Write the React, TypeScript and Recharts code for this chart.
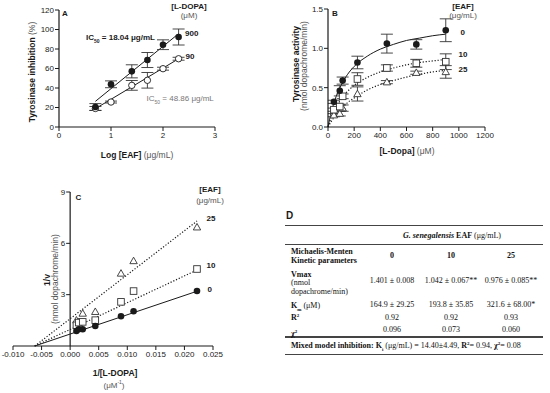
import React from 'react';
import { ComposedChart, Scatter, Line, XAxis, YAxis, ErrorBar, ReferenceLine, ReferenceDot } from 'recharts';

const SANS = '"Liberation Sans", Arial, sans-serif';
const SERIF = '"Liberation Serif", "Times New Roman", serif';
const INK = '#1a1a1a';
const GREY = '#555';

// Panel A: tyrosinase inhibition vs log [EAF]
const A_X = [0.7, 1.0, 1.4, 1.7, 2.0, 2.3];
const A_900 = [20.5, 43.8, 57.1, 68.7, 84.4, 92.3];
const A_900_ERR = [3.5, 3.5, 6.7, 7.7, 5, 8.2];
const A_90 = [19, 25.6, 42.7, 47.9, 59.8, 70];
const A_90_ERR = [2, 1, 5, 8, 1.5, 1.5];
const A_FIT_X = [0.7, 2.3];
const A_FIT_900 = [26.3, 95.7];
const A_FIT_90 = [18.8, 70];
const A_TICKS_X = [0, 1, 2, 3];
const A_TICKS_Y = [0, 20, 40, 60, 80, 100, 120];

// Panel B: Michaelis-Menten plot
const B_X = [45, 90, 112, 225, 450, 675, 900];
const B_0 = [0.32, 0.46, 0.59, 0.82, 1.06, 1.05, 1.23];
const B_0_ERR = [0.02, 0.065, 0.045, 0.08, 0.12, 0.06, 0.145];
const B_10 = [0.22, 0.26, 0.39, 0.61, 0.75, 0.81, 0.83];
const B_10_ERR = [0.02, 0.03, 0.03, 0.08, 0.04, 0.05, 0.1];
const B_25 = [0.15, 0.17, 0.24, 0.42, 0.57, 0.69, 0.7];
const B_25_ERR = [0.02, 0.03, 0.04, 0.09, 0.02, 0.02, 0.08];
const B_FIT_X = [0, 25, 50, 100, 150, 200, 300, 400, 500, 600, 700, 800, 900];
const B_FIT_0 = [0, 0.19, 0.33, 0.53, 0.67, 0.77, 0.9, 0.99, 1.05, 1.1, 1.13, 1.16, 1.18];
const B_FIT_10 = [0, 0.12, 0.21, 0.355, 0.455, 0.53, 0.63, 0.7, 0.75, 0.79, 0.82, 0.84, 0.86];
const B_FIT_25 = [0, 0.07, 0.13, 0.23, 0.31, 0.37, 0.47, 0.54, 0.59, 0.635, 0.67, 0.7, 0.72];
const B_TICKS_X = [0, 200, 400, 600, 800, 1000, 1200];
const B_TICKS_Y = [0, 0.5, 1.0, 1.5];

// Panel C: Lineweaver-Burk plot
const C_X = [0.0011, 0.0015, 0.0022, 0.0044, 0.0089, 0.0111, 0.0222];
const C_0 = [0.88, 0.98, 0.98, 1.17, 1.74, 2.03, 3.21];
const C_10 = [1.21, 1.37, 1.41, 1.51, 2.58, 3.21, 4.5];
const C_25 = [1.5, 1.4, 1.9, 2.0, 4.24, 4.97, 6.94];
const C_FIT_X = [-0.0062, 0.0222];
const C_FIT_0 = [0, 3.2];
const C_FIT_10 = [0, 4.44];
const C_FIT_25 = [0, 7.3];
const C_TICKS_X = [-0.01, -0.005, 0, 0.005, 0.01, 0.015, 0.02, 0.025];
const C_TICKS_Y = [3, 6, 9];

// Panel D: kinetic table
const D_DOSES = ['0', '10', '25'];
const D_VMAX = ['1.401 ± 0.008', '1.042 ± 0.067**', '0.976 ± 0.085**'];
const D_KM = ['164.9 ± 29.25', '193.8 ± 35.85', '321.6 ± 68.00*'];
const D_R2 = ['0.92', '0.92', '0.93'];
const D_CHI2 = ['0.096', '0.073', '0.060'];
const D_COL_X = [392, 451, 511];

const zip = (xs: number[], ys: number[], es?: number[]) =>
  xs.map((x, i) => ({ x, y: ys[i], e: es ? es[i] : 0 }));

const Dot = (p: any) => <circle cx={p.cx} cy={p.cy} r={3.3} fill={INK} />;
const Ring = (p: any) => <circle cx={p.cx} cy={p.cy} r={3.2} fill="#fff" stroke={INK} strokeWidth={0.9} />;
const Box = (p: any) => (
  <rect x={p.cx - 3.3} y={p.cy - 3.3} width={6.6} height={6.6} fill="#fff" stroke="#333" strokeWidth={0.9} />
);
const Tri = (p: any) => (
  <polygon
    points={`${p.cx},${p.cy - 3.8} ${p.cx + 3.7},${p.cy + 2.7} ${p.cx - 3.7},${p.cy + 2.7}`}
    fill="#fff"
    stroke="#333"
    strokeWidth={0.9}
  />
);

const tickFont = { fontSize: 8, fill: '#222', fontFamily: SANS };
const axisLine = { stroke: INK, strokeWidth: 1.2 };
const tickLine = { stroke: INK, strokeWidth: 1 };

// text helpers, x/y is the centre (or left edge when left=true)
const T = ({ x, y, children, left = false, size = 8, bold = false, color = INK, family = SANS }: any) => (
  <div
    style={{
      position: 'absolute',
      left: x,
      top: y,
      transform: left ? 'translate(0,-50%)' : 'translate(-50%,-50%)',
      whiteSpace: 'nowrap',
      fontSize: size,
      fontWeight: bold ? 'bold' : 'normal',
      color,
      fontFamily: family,
      lineHeight: 1,
    }}
  >
    {children}
  </div>
);

const V = ({ x, y, children, size = 8.5 }: any) => (
  <div
    style={{
      position: 'absolute',
      left: x,
      top: y,
      transform: 'translate(-50%,-50%) rotate(-90deg)',
      whiteSpace: 'nowrap',
      fontSize: size,
      color: INK,
      fontFamily: SANS,
      lineHeight: 1,
    }}
  >
    {children}
  </div>
);

const g = (s: string) => <span style={{ fontWeight: 'normal', color: GREY }}>{s}</span>;

// y-axis of panel C sits at x = 0, so its ticks are drawn as reference dots
const yTickAtZero = (label: string) => (p: any) => (
  <g>
    <line x1={p.cx - 4} x2={p.cx} y1={p.cy} y2={p.cy} stroke={INK} strokeWidth={1} />
    <text x={p.cx - 5} y={p.cy} dy="0.33em" textAnchor="end" fontSize={8} fill="#222" fontFamily={SANS}>
      {label}
    </text>
  </g>
);

const PanelA = () => (
  <div style={{ position: 'absolute', left: 0, top: 0 }}>
    <ComposedChart width={275} height={150} margin={{ top: 10, right: 60, bottom: 3, left: 29 }}>
      <XAxis type="number" dataKey="x" domain={[0, 3]} ticks={A_TICKS_X} height={20} tick={tickFont}
        axisLine={axisLine} tickLine={tickLine} tickSize={4} tickMargin={1} />
      <YAxis type="number" domain={[0, 120]} ticks={A_TICKS_Y} width={30} tick={tickFont}
        axisLine={axisLine} tickLine={tickLine} tickSize={4} tickMargin={1} />
      <Line data={zip(A_FIT_X, A_FIT_900)} dataKey="y" stroke={INK} strokeWidth={1} dot={false} isAnimationActive={false} />
      <Line data={zip(A_FIT_X, A_FIT_90)} dataKey="y" stroke={INK} strokeWidth={1} dot={false} isAnimationActive={false} />
      <Scatter data={zip(A_X, A_90, A_90_ERR)} dataKey="y" shape={Ring} isAnimationActive={false}>
        <ErrorBar dataKey="e" direction="y" width={6} stroke="#333" strokeWidth={0.9} />
      </Scatter>
      <Scatter data={zip(A_X, A_900, A_900_ERR)} dataKey="y" shape={Dot} isAnimationActive={false}>
        <ErrorBar dataKey="e" direction="y" width={6} stroke="#333" strokeWidth={0.9} />
      </Scatter>
    </ComposedChart>
  </div>
);

const PanelB = () => (
  <div style={{ position: 'absolute', left: 275, top: 0 }}>
    <ComposedChart width={275} height={150} margin={{ top: 9, right: 65, bottom: 3, left: 23 }}>
      <XAxis type="number" dataKey="x" domain={[0, 1200]} ticks={B_TICKS_X} height={20} tick={tickFont}
        axisLine={axisLine} tickLine={tickLine} tickSize={4} tickMargin={1} />
      <YAxis type="number" domain={[0, 1.5]} ticks={B_TICKS_Y} width={30} tick={tickFont}
        tickFormatter={(v: number) => v.toFixed(1)}
        axisLine={axisLine} tickLine={tickLine} tickSize={4} tickMargin={1} />
      <Line data={zip(B_FIT_X, B_FIT_0)} dataKey="y" type="monotone" stroke={INK} strokeWidth={1} dot={false} isAnimationActive={false} />
      <Line data={zip(B_FIT_X, B_FIT_10)} dataKey="y" type="monotone" stroke={INK} strokeWidth={1.2} strokeDasharray="1.2 1.8" dot={false} isAnimationActive={false} />
      <Line data={zip(B_FIT_X, B_FIT_25)} dataKey="y" type="monotone" stroke={INK} strokeWidth={1.2} strokeDasharray="1.2 1.8" dot={false} isAnimationActive={false} />
      <Scatter data={zip(B_X, B_25, B_25_ERR)} dataKey="y" shape={Tri} isAnimationActive={false}>
        <ErrorBar dataKey="e" direction="y" width={6} stroke="#333" strokeWidth={0.9} />
      </Scatter>
      <Scatter data={zip(B_X, B_10, B_10_ERR)} dataKey="y" shape={Box} isAnimationActive={false}>
        <ErrorBar dataKey="e" direction="y" width={6} stroke="#333" strokeWidth={0.9} />
      </Scatter>
      <Scatter data={zip(B_X, B_0, B_0_ERR)} dataKey="y" shape={Dot} isAnimationActive={false}>
        <ErrorBar dataKey="e" direction="y" width={6} stroke="#333" strokeWidth={0.9} />
      </Scatter>
    </ComposedChart>
  </div>
);

const PanelC = () => (
  <div style={{ position: 'absolute', left: 0, top: 185 }}>
    <ComposedChart width={275} height={185} margin={{ top: 7, right: 62, bottom: 4, left: 13 }}>
      <XAxis type="number" dataKey="x" domain={[-0.01, 0.025]} ticks={C_TICKS_X} height={20} tick={tickFont}
        tickFormatter={(v: number) => v.toFixed(3)}
        axisLine={axisLine} tickLine={tickLine} tickSize={4} tickMargin={1} />
      <YAxis type="number" domain={[0, 9]} width={0} tick={false} axisLine={false} tickLine={false} />
      <ReferenceLine x={0} stroke={INK} strokeWidth={1.2} />
      {C_TICKS_Y.map((t) => (
        <ReferenceDot key={t} x={0} y={t} r={0} shape={yTickAtZero(String(t))} />
      ))}
      <Line data={zip(C_FIT_X, C_FIT_0)} dataKey="y" stroke={INK} strokeWidth={1} dot={false} isAnimationActive={false} />
      <Line data={zip(C_FIT_X, C_FIT_10)} dataKey="y" stroke={INK} strokeWidth={1.2} strokeDasharray="1.2 1.8" dot={false} isAnimationActive={false} />
      <Line data={zip(C_FIT_X, C_FIT_25)} dataKey="y" stroke={INK} strokeWidth={1.2} strokeDasharray="1.2 1.8" dot={false} isAnimationActive={false} />
      <Scatter data={zip(C_X, C_25)} dataKey="y" shape={Tri} isAnimationActive={false} />
      <Scatter data={zip(C_X, C_10)} dataKey="y" shape={Box} isAnimationActive={false} />
      <Scatter data={zip(C_X, C_0)} dataKey="y" shape={Dot} isAnimationActive={false} />
    </ComposedChart>
  </div>
);

const Rule = ({ y, w = 1 }: any) => (
  <div style={{ position: 'absolute', left: 285, top: y - w / 2, width: 258, height: w, background: '#444' }} />
);

const PanelD = () => {
  const rows = [
    { y: 281, vals: D_VMAX },
    { y: 304.5, vals: D_KM },
    { y: 317.5, vals: D_R2 },
    { y: 329.5, vals: D_CHI2 },
  ];
  const ts = { family: SERIF, size: 8, color: '#111' };
  return (
    <>
      <T x={286} y={216} left bold size={10}>D</T>
      <Rule y={225} w={1} />
      <Rule y={244.5} w={1.5} />
      <Rule y={337} w={1.5} />
      <Rule y={354.5} w={1} />
      <T x={452} y={235.5} {...ts}>
        <b><i>G. senegalensis</i> EAF</b> (μg/mL)
      </T>
      <T x={291} y={251.5} left bold {...ts}>Michaelis-Menten</T>
      <T x={291} y={260.5} left bold {...ts}>Kinetic parameters</T>
      {D_DOSES.map((d, i) => (
        <T key={d} x={D_COL_X[i]} y={256} bold {...ts}>{d}</T>
      ))}
      <T x={291} y={275} left bold {...ts}>Vmax</T>
      <T x={291} y={283} left {...ts}>(nmol</T>
      <T x={291} y={291.5} left {...ts}>dopachrome/min)</T>
      <T x={291} y={307} left {...ts}>
        <b>K<sub style={{ fontSize: 5 }}>m</sub></b> (μM)
      </T>
      <T x={291} y={317.5} left {...ts}>
        <b>R<sup style={{ fontSize: 5 }}>2</sup></b>
      </T>
      <T x={291} y={333} left {...ts}>
        <b>χ<sup style={{ fontSize: 5 }}>2</sup></b>
      </T>
      {rows.map((r) =>
        r.vals.map((v, i) => (
          <T key={r.y + '-' + i} x={D_COL_X[i]} y={r.y} {...ts}>{v}</T>
        ))
      )}
      <T x={291} y={346} left {...ts}>
        <b>Mixed model inhibition: K<sub style={{ fontSize: 5 }}>i</sub></b> (μg/mL) = 14.40±4.49,{' '}
        <b>R<sup style={{ fontSize: 5 }}>2</sup></b>= 0.94, <b>χ<sup style={{ fontSize: 5 }}>2</sup></b>= 0.08
      </T>
    </>
  );
};

export default function App() {
  return (
    <div style={{ position: 'absolute', left: 0, top: 0, width: 550, height: 393, background: '#fff', overflow: 'hidden', fontFamily: SANS }}>
      <PanelA />
      <PanelB />
      <PanelC />
      <PanelD />

      {/* panel A labels */}
      <V x={31.5} y={72}><b>Tyrosinase inhibition</b>{g(' (%)')}</V>
      <T x={137} y={154.5} size={8.5} bold>Log [EAF]{g(' (μg/mL)')}</T>
      <T x={65} y={14} bold>A</T>
      <T x={189} y={7} bold>[L-DOPA]</T>
      <T x={189} y={16} color={GREY}>(μM)</T>
      <T x={185} y={33.5} left bold>900</T>
      <T x={185.5} y={57} left bold>90</T>
      <T x={86} y={39} left bold>IC<sub style={{ fontSize: 5 }}>50</sub> = 18.04 μg/mL</T>
      <T x={146.5} y={99.5} left color="#777">IC<sub style={{ fontSize: 5 }}>50</sub> = 48.86 μg/mL</T>

      {/* panel B labels */}
      <V x={296} y={64}><b>Tyrosinase activity</b></V>
      <V x={304} y={66}>{g('(nmol dopachrome/min)')}</V>
      <T x={407} y={150.5} size={8.5} bold>[L-Dopa]{g(' (μM)')}</T>
      <T x={335} y={13.5} bold>B</T>
      <T x={463} y={7} bold>[EAF]</T>
      <T x={463} y={16} color={GREY}>(μg/mL)</T>
      <T x={460.5} y={32.5} left bold>0</T>
      <T x={458.5} y={55} left bold>10</T>
      <T x={458.5} y={70} left bold>25</T>

      {/* panel C labels */}
      <V x={47} y={280}><b>1/v</b></V>
      <V x={55} y={279}>{g('(nmol dopachrome/min)')}</V>
      <T x={115} y={373} size={8.5} bold>1/[L-DOPA]</T>
      <T x={114} y={385} color={GREY}>(μM<sup style={{ fontSize: 5 }}>-1</sup>)</T>
      <T x={78.5} y={197.5} bold>C</T>
      <T x={210} y={190} bold>[EAF]</T>
      <T x={210} y={200.5} color={GREY}>(μg/mL)</T>
      <T x={206.5} y={219} left bold>25</T>
      <T x={206.5} y={266} left bold>10</T>
      <T x={207.5} y={289.5} left bold>0</T>
    </div>
  );
}
